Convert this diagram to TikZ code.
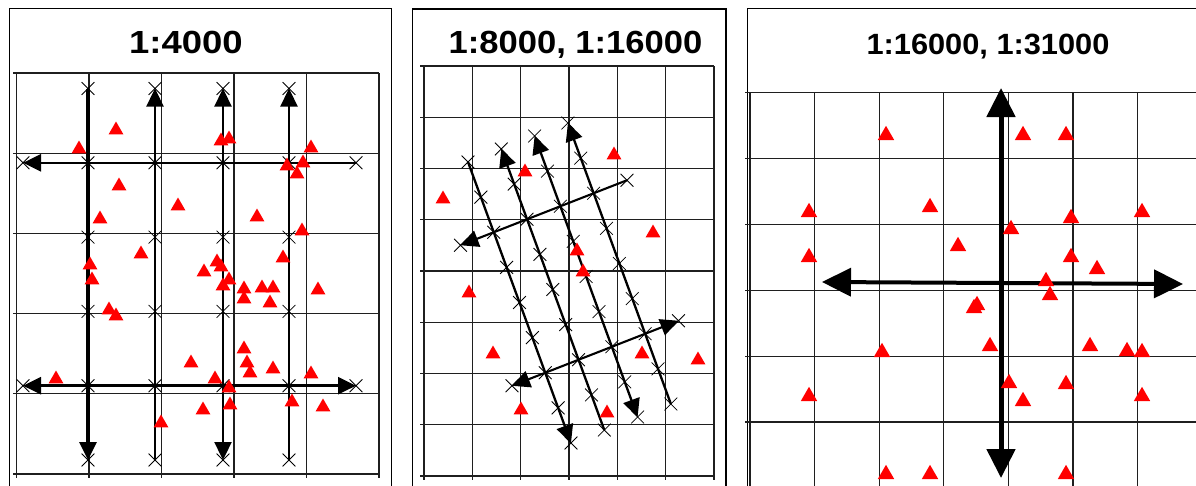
\documentclass[tikz,border=0pt]{standalone}
\usepackage{fontspec}
\setmainfont{Liberation Sans}
\usetikzlibrary{arrows.meta,shapes.geometric,shapes.misc}
\begin{document}
\begin{tikzpicture}[x=1pt,y=-1pt,
  gridline/.style={draw=black!88,line width=1.2pt},
  panelframe/.style={draw=black,line width=1.3pt},
  xnode/.style={cross out,draw=black,line width=0.8pt,minimum size=12pt,inner sep=0pt},
  tri/.style={regular polygon,regular polygon sides=3,fill=red,draw=none,inner sep=0pt,minimum size=17pt,yshift=-2pt},
  bigtri/.style={tri,minimum size=19pt,yshift=-2.3pt},
  title/.style={anchor=base,inner sep=0pt,font=\bfseries\fontsize{32}{32}\selectfont},
  tA/.style={line width=2.3pt},
  tB/.style={line width=3.2pt},
  tC/.style={line width=2.1pt},
  tD/.style={line width=5pt},
  tE/.style={line width=4pt},
  tipS/.tip={Triangle[length=18pt,width=17pt]},
  tipL/.tip={Triangle[length=29pt,width=28pt]}
]
\useasboundingbox (0,0) rectangle (1196,485);
\clip (0,0) rectangle (1196,485);
\fill[white] (0,0) rectangle (1196,485);

% ---------- frames ----------
\draw[panelframe] (9.3,8.3) rectangle (391.5,510);
\draw[panelframe] (412.7,9) rectangle (726,510);
\draw[panelframe] (747.7,8.3) rectangle (1220,510);

% ---------- titles ----------
\node[title] (title1) at (186,53.3) {\scalebox{1.14}[1]{1:4000}};
\node[title] (title2) at (575.5,53.3) {\scalebox{1.08}[1]{1:8000, 1:16000}};
\node[title,font=\bfseries\fontsize{29.3}{29.3}\selectfont] (title3) at (988,54.3) {\scalebox{1.05}[1]{1:16000, 1:31000}};

% ---------- grids ----------
\foreach \k in {0,...,5} {
  \draw[gridline] (16.5+72.5*\k,73) -- (16.5+72.5*\k,478);
  \draw[gridline] (13,73+80.2*\k) -- (379,73+80.2*\k);
}
\foreach \k in {0,...,6} \draw[gridline] (424+48.33*\k,66) -- (424+48.33*\k,480);
\foreach \k in {0,...,8} \draw[gridline] (420,66+51.25*\k) -- (714,66+51.25*\k);
\foreach \k in {0,...,7} \draw[gridline] (750+64.6*\k,92.5) -- (750+64.6*\k,495);
\foreach \k in {0,...,6} \draw[gridline] (745,92.5+65.9*\k) -- (1210,92.5+65.9*\k);

% ---------- panel 1 ----------
\foreach \i/\x in {1/88,2/155,3/223,4/289}
  \foreach \j in {0,...,5}
    \coordinate (a\i-\j) at (\x,88.5+74.3*\j);
\coordinate (h1L) at (23,162.8);
\coordinate (h1R) at (356,162.8);
\coordinate (h2L) at (23,385.7);
\coordinate (h2R) at (356,385.7);
\draw[tB,-tipS] (a1-0) -- (a1-5);
\draw[tA,tipS-] (a2-0) -- (a2-5);
\draw[tA,tipS-tipS] (a3-0) -- (a3-5);
\draw[tA,tipS-] (a4-0) -- (a4-5);
\draw[tA,line width=2.6pt,tipS-] (h1L) -- (h1R);
\draw[tA,line width=2.6pt,tipS-tipS] (h2L) -- (h2R);
\foreach \i in {1,...,4}
  \foreach \j in {0,...,5}
    \node[xnode] (xa\i-\j) at (a\i-\j) {};
\foreach \c in {h1L,h1R,h2L,h2R} \node[xnode] (x\c) at (\c) {};

% ---------- panel 2 ----------
\foreach \i in {0,...,3}
  \foreach \j in {0,...,8}
    \coordinate (b\i-\j) at (468+33.3*\i+12.875*\j,162-13*\i+35.125*\j);
\coordinate (c1L) at (460.45,245.25);
\coordinate (c1R) at (626.95,180.25);
\coordinate (c2L) at (511.95,385.75);
\coordinate (c2R) at (678.45,320.75);
\draw[tA,-tipS] (b0-0) -- (b0-8);
\draw[tA,tipS-] (b1-0) -- (b1-8);
\draw[tA,tipS-tipS] (b2-0) -- (b2-8);
\draw[tA,tipS-] (b3-0) -- (b3-8);
\draw[tC,tipS-] (c1L) -- (c1R);
\draw[tC,tipS-tipS] (c2L) -- (c2R);
\foreach \i in {0,...,3}
  \foreach \j in {0,...,8}
    \node[xnode] (xb\i-\j) at (b\i-\j) {};
\foreach \c in {c1L,c1R,c2L,c2R} \node[xnode] (x\c) at (\c) {};

% ---------- panel 3 ----------
\coordinate (vT) at (1001,88);
\coordinate (vB) at (1001,478);
\coordinate (hL) at (822,282);
\coordinate (hR) at (1183,284);
\draw[tD,tipL-tipL] (vT) -- (vB);
\draw[tE,tipL-tipL] (hL) -- (hR);

% ---------- triangles ----------
\foreach \x/\y [count=\n] in {116/128,79/147,221/139,229/137,311/146,287/164,303/161,297/172,119/184,178/204,100/217,257/215,302/229,141/252,90/263,92/278,283/256,217/260,221/265,204/270,229/278,223/284,244/287,262/286,273/286,244/297,270/301,318/288,109/308,116/314,244/347,191/361,247/361,250/371,273/367,311/372,56/377,215/377,229/386,203/408,230/403,292/400,323/405,161/421}
  \node[tri] (ra\n) at (\x,\y) {};
\foreach \x/\y [count=\n] in {614/153,525/170,443/197,653/231,577/249,583/270,469/291,493/352,642/352,698/358,521/408,607/411}
  \node[tri] (rb\n) at (\x,\y) {};
\foreach \x/\y [count=\n] in {886/131,1023/131,1066/131,809/208,930/203,1071/214,1142/208,1011/225,958/242,809/253,1071/253,1097/265,1046/277,1050/291,977/301,974/304,990/342,882/348,1090/342,1127/347,1142/348,1009/379,1066/380,809/392,1142/392,1023/397,886/470,930/470,1066/470}
  \node[bigtri] (rc\n) at (\x,\y) {};
\end{tikzpicture}
\end{document}
